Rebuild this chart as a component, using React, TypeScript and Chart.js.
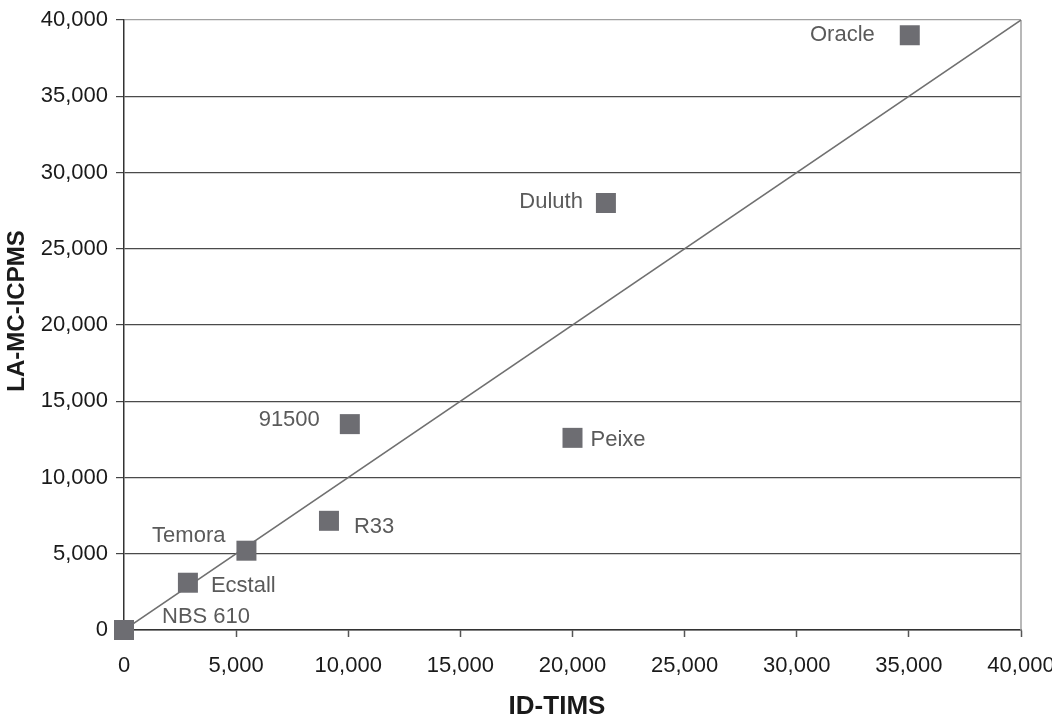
import React, { useEffect, useRef } from 'react';
import { Chart, registerables } from 'chart.js';

Chart.register(...registerables);

// ---- Data ----
const sampleNames = ['NBS 610', 'Ecstall', 'Temora', 'R33', '91500', 'Peixe', 'Duluth', 'Oracle'];
const idTims = [0, 2850, 5460, 9140, 10070, 20000, 21490, 35040];
const laMcIcpms = [0, 3100, 5200, 7160, 13500, 12600, 28000, 39000];
const oneToOneX = [0, 40000];
const oneToOneY = [0, 40000];
const axisMin = 0;
const axisMax = 40000;
const axisStep = 5000;
const xTitle = 'ID-TIMS';
const yTitle = 'LA-MC-ICPMS';

const FONT = '"Liberation Sans", Arial, Helvetica, sans-serif';

// label placement relative to each marker (styling, not data)
const labelPlacement: Record<string, { dx: number; dy: number; align: CanvasTextAlign }> = {
  'NBS 610': { dx: 38, dy: -13, align: 'left' },
  Ecstall: { dx: 23, dy: 3, align: 'left' },
  Temora: { dx: -21, dy: -15, align: 'right' },
  R33: { dx: 25, dy: 6, align: 'left' },
  '91500': { dx: -30, dy: -4, align: 'right' },
  Peixe: { dx: 18, dy: 2, align: 'left' },
  Duluth: { dx: -23, dy: -1, align: 'right' },
  Oracle: { dx: -35, dy: 0, align: 'right' },
};

const fmt = (v: number) => Number(v).toLocaleString('en-US');

const pointLabelsPlugin = {
  id: 'pointLabels',
  afterDatasetsDraw(chart: any) {
    const meta = chart.getDatasetMeta(0);
    const ctx = chart.ctx;
    ctx.save();
    ctx.font = `22px ${FONT}`;
    ctx.fillStyle = '#5a5a5a';
    ctx.textBaseline = 'middle';
    meta.data.forEach((el: any, i: number) => {
      const name = sampleNames[i];
      const p = labelPlacement[name];
      ctx.textAlign = p.align;
      ctx.fillText(name, el.x + p.dx, el.y + p.dy);
    });
    ctx.restore();
  },
};

const axisTitlesPlugin = {
  id: 'axisTitles',
  afterDraw(chart: any) {
    const { ctx } = chart;
    ctx.save();
    ctx.fillStyle = '#1a1a1a';
    ctx.textAlign = 'center';
    ctx.textBaseline = 'middle';
    ctx.font = `bold 26px ${FONT}`;
    ctx.fillText(xTitle, 557, 707);
    ctx.translate(17, 311);
    ctx.rotate(-Math.PI / 2);
    ctx.font = `bold 24px ${FONT}`;
    ctx.fillText(yTitle, 0, 0);
    ctx.restore();
  },
};

const frameRightPlugin = {
  id: 'frameRight',
  beforeDatasetsDraw(chart: any) {
    const { ctx, chartArea } = chart;
    ctx.save();
    ctx.strokeStyle = '#a0a0a0';
    ctx.lineWidth = 1.5;
    ctx.beginPath();
    ctx.moveTo(chartArea.right, chartArea.top);
    ctx.lineTo(chartArea.right, chartArea.bottom);
    ctx.stroke();
    ctx.restore();
  },
};

export default function App() {
  const canvasRef = useRef<HTMLCanvasElement | null>(null);

  useEffect(() => {
    if (!canvasRef.current) return;
    const points = idTims.map((x, i) => ({ x, y: laMcIcpms[i] }));
    const line = oneToOneX.map((x, i) => ({ x, y: oneToOneY[i] }));

    const chart = new Chart(canvasRef.current, {
      type: 'scatter',
      data: {
        datasets: [
          {
            label: 'Samples',
            data: points,
            pointStyle: 'rect',
            pointRadius: 14.14,
            pointHoverRadius: 14.14,
            backgroundColor: '#6d6d72',
            borderColor: '#6d6d72',
            borderWidth: 0,
            clip: false as any,
          },
          {
            label: '1:1',
            type: 'line' as any,
            data: line,
            borderColor: '#707070',
            borderWidth: 1.5,
            pointRadius: 0,
            showLine: true,
            fill: false,
          },
        ],
      },
      options: {
        responsive: false,
        animation: false,
        devicePixelRatio: 1,
        layout: { padding: { top: 20, right: 31, left: 0, bottom: 0 } },
        plugins: {
          legend: { display: false },
          tooltip: { enabled: false },
        },
        scales: {
          x: {
            type: 'linear',
            min: axisMin,
            max: axisMax,
            ticks: {
              stepSize: axisStep,
              padding: 16,
              color: '#1a1a1a',
              font: { family: FONT, size: 22 },
              callback: (v: any) => fmt(v),
              maxRotation: 0,
              autoSkip: false,
            },
            grid: {
              drawOnChartArea: false,
              drawTicks: true,
              tickLength: 7,
              tickColor: '#555',
              tickWidth: 1.5,
            },
            border: { display: true, color: '#333', width: 1.5 },
            title: { display: false, text: xTitle },
            afterFit: (scale: any) => {
              scale.height = 91;
              scale.paddingLeft = 0;
              scale.paddingRight = 0;
            },
          },
          y: {
            type: 'linear',
            min: axisMin,
            max: axisMax,
            ticks: {
              stepSize: axisStep,
              padding: 8,
              color: '#1a1a1a',
              font: { family: FONT, size: 22 },
              callback: (v: any) => fmt(v),
            },
            grid: {
              drawOnChartArea: true,
              drawTicks: true,
              tickLength: 8,
              color: (c: any) => (c.tick && c.tick.value === axisMax ? '#a0a0a0' : '#4a4a4a'),
              lineWidth: 1.2,
              tickColor: '#444',
            },
            border: { display: true, color: '#333', width: 1.5 },
            title: { display: false, text: yTitle },
            afterFit: (scale: any) => {
              scale.width = 124;
              scale.paddingTop = 0;
              scale.paddingBottom = 0;
            },
          },
        },
      },
      plugins: [frameRightPlugin, pointLabelsPlugin, axisTitlesPlugin],
    } as any);

    return () => chart.destroy();
  }, []);

  return (
    <div style={{ position: 'fixed', left: 0, top: 0, width: 1052, height: 721, background: '#fff' }}>
      <canvas ref={canvasRef} width={1052} height={721} />
    </div>
  );
}
